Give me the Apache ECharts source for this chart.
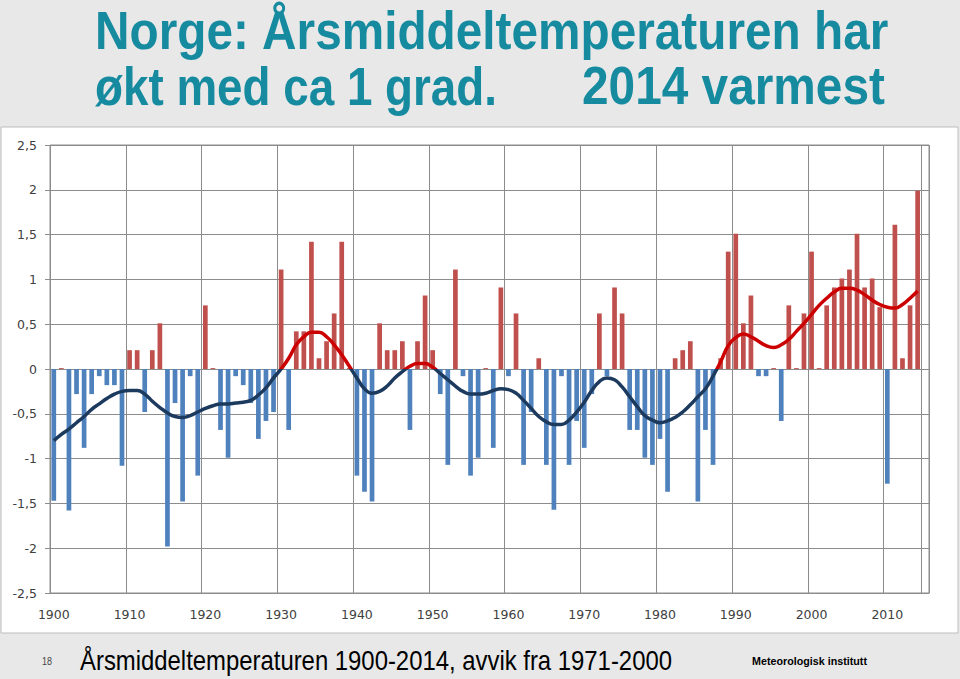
<!DOCTYPE html>
<html>
<head>
<meta charset="utf-8">
<script src="https://cdn.jsdelivr.net/npm/echarts@6/dist/echarts.min.js"></script>
<style>
  html, body { margin: 0; padding: 0; background: #e8e8e8; }
  #chart { width: 960px; height: 679px; }
</style>
</head>
<body>
<div id="chart"></div>
<script>
// ---- data ----
const years = [];
for (let y = 1900; y <= 2015; y++) years.push(String(y));
const xTickLabels = ['1900','1910','1920','1930','1940','1950','1960','1970','1980','1990','2000','2010'];
const yTickLabels = ['-2,5','-2','-1,5','-1','-0,5','0','0,5','1','1,5','2','2,5'];

// yearly anomaly (deg C), 1900-2014
const anomaly = [
  -1.47, 0.01, -1.58, -0.28, -0.88, -0.28, -0.08, -0.18, -0.18, -1.08,
   0.21, 0.21, -0.48, 0.21, 0.51, -1.98, -0.38, -1.48, -0.08, -1.19,
   0.71, 0.01, -0.68, -0.99, -0.08, -0.18, -0.38, -0.78, -0.58, -0.48,
   1.11, -0.68, 0.42, 0.42, 1.42, 0.12, 0.31, 0.62, 1.42, 0.01,
  -1.19, -1.37, -1.48, 0.51, 0.21, 0.21, 0.31, -0.68, 0.31, 0.82,
   0.21, -0.28, -1.07, 1.11, -0.08, -1.19, -0.99, 0.01, -0.88, 0.91,
  -0.08, 0.62, -1.07, -0.48, 0.12, -1.07, -1.57, -0.08, -1.07, -0.58,
  -0.88, -0.28, 0.62, -0.08, 0.91, 0.62, -0.68, -0.68, -0.99, -1.07,
  -0.78, -1.37, 0.12, 0.21, 0.31, -1.48, -0.68, -1.07, 0.12, 1.31,
   1.51, 0.51, 0.82, -0.08, -0.08, 0.01, -0.58, 0.71, 0.01, 0.62,
   1.31, 0.01, 0.71, 0.91, 1.01, 1.11, 1.51, 0.91, 1.01, 0.69,
  -1.28, 1.61, 0.12, 0.71, 1.99, null
];

// smoothed curve, 1900-2014
const smoothed = [
  -0.80, -0.73, -0.67, -0.60, -0.53, -0.45, -0.39, -0.33, -0.28, -0.25,
  -0.24, -0.24, -0.28, -0.36, -0.43, -0.49, -0.53, -0.54, -0.52, -0.48,
  -0.44, -0.41, -0.39, -0.39, -0.38, -0.37, -0.35, -0.29, -0.21, -0.10,
   0.00, 0.12, 0.27, 0.36, 0.41, 0.41, 0.36, 0.27, 0.16, 0.03,
  -0.10, -0.22, -0.27, -0.25, -0.19, -0.10, -0.03, 0.03, 0.06, 0.06,
   0.02, -0.05, -0.12, -0.19, -0.25, -0.28, -0.28, -0.27, -0.24, -0.22,
  -0.23, -0.27, -0.35, -0.44, -0.53, -0.59, -0.62, -0.62, -0.57, -0.48,
  -0.37, -0.24, -0.14, -0.10, -0.12, -0.20, -0.31, -0.42, -0.52, -0.57,
  -0.60, -0.58, -0.54, -0.48, -0.40, -0.31, -0.22, -0.08, 0.08, 0.26,
   0.35, 0.39, 0.36, 0.31, 0.26, 0.24, 0.27, 0.33, 0.42, 0.51,
   0.61, 0.71, 0.79, 0.86, 0.90, 0.90, 0.88, 0.83, 0.77, 0.72,
   0.69, 0.68, 0.72, 0.79, 0.87, null
];

const titleLine1 = 'Norge: Årsmiddeltemperaturen har';
const titleLine2a = 'økt med ca 1 grad.';
const titleLine2b = '2014 varmest';
const footerText = 'Årsmiddeltemperaturen 1900-2014, avvik fra 1971-2000';
const footerPage = '18';
const footerOrg = 'Meteorologisk institutt';

// ---- helpers ----
const measureCtx = document.createElement('canvas').getContext('2d');
function fitScale(text, font, targetWidth) {
  measureCtx.font = font;
  return targetWidth / measureCtx.measureText(text).width;
}
function txt(text, x, y, font, fill, targetWidth) {
  return {
    type: 'text', x: x, y: y, z: 10,
    scaleX: fitScale(text, font, targetWidth),
    style: { text: text, font: font, fill: fill,
             textAlign: 'left', textVerticalAlign: 'middle',
             align: 'left', verticalAlign: 'middle' }
  };
}

const TITLE_FONT = 'bold 53px "Liberation Sans", Arial, sans-serif';
const TEAL = '#168ba0';
const WARM_LINE = '#cc0000';
const COLD_LINE = '#1c3a5e';

const chart = echarts.init(document.getElementById('chart'), null, { renderer: 'svg' });
chart.setOption({
  backgroundColor: 'transparent',
  animation: false,
  graphic: {
    elements: [
      { type: 'rect', z: -100, shape: { x: 1, y: 127, width: 957, height: 506 },
        style: { fill: '#ffffff', stroke: '#bdbdbd', lineWidth: 1 } },
      txt(titleLine1, 95, 31, TITLE_FONT, TEAL, 793),
      txt(titleLine2a, 95, 86, TITLE_FONT, TEAL, 402),
      txt(titleLine2b, 582, 86, TITLE_FONT, TEAL, 303),
      txt(footerPage, 42, 661, '11px "Liberation Sans", Arial, sans-serif', '#444444', 10),
      txt(footerText, 80, 660, '28px "Liberation Sans", Arial, sans-serif', '#000000', 592),
      txt(footerOrg, 752, 661, 'bold 11px "Liberation Sans", Arial, sans-serif', '#000000', 115)
    ]
  },
  grid: {
    left: 50, right: 31, top: 145, bottom: 86,
    show: true, borderColor: '#8c8c8c', borderWidth: 1, backgroundColor: 'transparent'
  },
  xAxis: {
    type: 'category',
    data: years,
    boundaryGap: true,
    axisLine: { onZero: false, lineStyle: { color: '#8c8c8c' } },
    axisTick: { show: false, interval: 9 },
    splitLine: { show: true, interval: 9, lineStyle: { color: '#8c8c8c', width: 1 } },
    axisLabel: {
      interval: 0, margin: 15,
      fontFamily: 'DejaVu Sans', fontSize: 12.5, color: '#404040',
      formatter: function (v) { return xTickLabels.indexOf(v) >= 0 ? v : ''; }
    }
  },
  yAxis: {
    type: 'value',
    min: -2.5, max: 2.5, interval: 0.5,
    axisLine: { show: false },
    axisTick: { show: true, length: 5, lineStyle: { color: '#8c8c8c' } },
    splitLine: { show: true, lineStyle: { color: '#8c8c8c', width: 1 } },
    axisLabel: {
      margin: 13, fontFamily: 'DejaVu Sans', fontSize: 12.5, color: '#404040',
      formatter: function (v) {
        const idx = Math.round((v + 2.5) / 0.5);
        return yTickLabels[idx];
      }
    }
  },
  series: [
    {
      type: 'bar',
      data: anomaly,
      barWidth: '62%',
      itemStyle: {
        color: function (p) { return p.value >= 0 ? '#c0504d' : '#4f81bd'; }
      }
    },
    {
      id: 'smooth',
      type: 'line',
      data: smoothed,
      smooth: 0.5,
      symbol: 'none',
      lineStyle: { width: 3.5, color: COLD_LINE },
      z: 5
    }
  ]
});

// colour the smoothed line red above zero and dark blue below, split exactly at the zero line
const yTop = chart.convertToPixel({ yAxisIndex: 0 }, 2.5);
const yZero = chart.convertToPixel({ yAxisIndex: 0 }, 0);
const yBot = chart.convertToPixel({ yAxisIndex: 0 }, -2.5);
const split = (yZero - yTop) / (yBot - yTop);
chart.setOption({
  series: [{
    id: 'smooth',
    lineStyle: {
      color: new echarts.graphic.LinearGradient(0, yTop, 0, yBot, [
        { offset: 0, color: WARM_LINE },
        { offset: split, color: WARM_LINE },
        { offset: split, color: COLD_LINE },
        { offset: 1, color: COLD_LINE }
      ], true)
    }
  }]
});
</script>
</body>
</html>
